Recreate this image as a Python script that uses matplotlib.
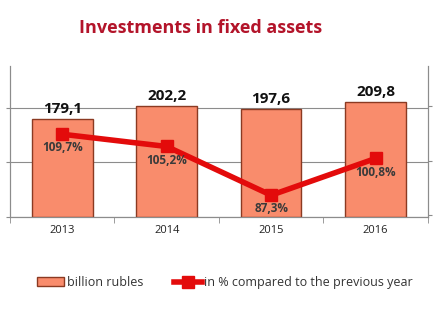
import matplotlib.pyplot as plt
import numpy as np

years = ['2013', '2014', '2015', '2016']
billions = [179.1, 202.2, 197.6, 209.8]
percents = [109.7, 105.2, 87.3, 100.8]
bill_labels = ['179,1', '202,2', '197,6', '209,8']
pct_labels = ['109,7%', '105,2%', '87,3%', '100,8%']

plt.rcParams['font.family'] = ['Open Sans', 'DejaVu Sans']

fig = plt.figure(figsize=(4.37, 3.14), dpi=100)
ax = fig.add_axes([0.023, 0.309, 0.956, 0.481])
x = np.arange(len(years))

bar_color = '#F98C6C'
bars = ax.bar(x, billions, width=0.58, color=bar_color, edgecolor='#8B3A22',
              linewidth=1.0, zorder=3, label='billion rubles')
for xi, v, t in zip(x, billions, bill_labels):
    ax.text(xi, v + 6, t, ha='center', va='bottom', fontsize=11,
            fontweight='bold', color='#111111', zorder=5)

ax.set_xlim(-0.5, 3.5)
ax.set_ylim(0, 276)
ax.set_yticks([0, 100, 200])
ax.set_yticklabels([])
ax.yaxis.grid(True, color='#8C8C8C', linewidth=0.8, zorder=0)
ax.tick_params(axis='y', length=3, color='#8C8C8C')
ax.set_xticks(x)
ax.set_xticklabels(years, fontsize=8, color='#222222')
ax.set_xticks(np.arange(-0.5, 4.0, 1.0), minor=True)
ax.tick_params(axis='x', which='major', length=0, pad=6)
ax.tick_params(axis='x', which='minor', length=4, color='#8C8C8C')
ax.spines['top'].set_visible(False)
for s in ['left', 'right', 'bottom']:
    ax.spines[s].set_color('#8C8C8C')

ax2 = ax.twinx()
ax2.set_ylim(79.3, 134.8)
ax2.set_yticks([80, 100, 120])
ax2.set_yticklabels([])
ax2.tick_params(axis='y', length=3, color='#8C8C8C')
ax2.spines['top'].set_visible(False)
for s in ['left', 'right', 'bottom']:
    ax2.spines[s].set_color('#8C8C8C')
line, = ax2.plot(x, percents, color='#E30B0B', linewidth=4, marker='s',
                 markersize=9, zorder=6, label='in % compared to the previous year')
for xi, v, t in zip(x, percents, pct_labels):
    ax2.text(xi, v - 2.6, t, ha='center', va='top', fontsize=8.5,
             fontweight='bold', color='#3A3A3A', zorder=7)

fig.text(0.46, 0.912, 'Investments in fixed assets', ha='center', va='center',
         fontsize=13, fontweight='bold', color='#B3142A')

fig.legend([bars, line], ['billion rubles', 'in % compared to the previous year'],
           loc='center', bbox_to_anchor=(0.515, 0.1), ncol=2, frameon=False,
           fontsize=9, handlelength=2.2, handletextpad=0.2, columnspacing=2.5,
           labelcolor='#333333')

fig.savefig('out.png', dpi=100)
